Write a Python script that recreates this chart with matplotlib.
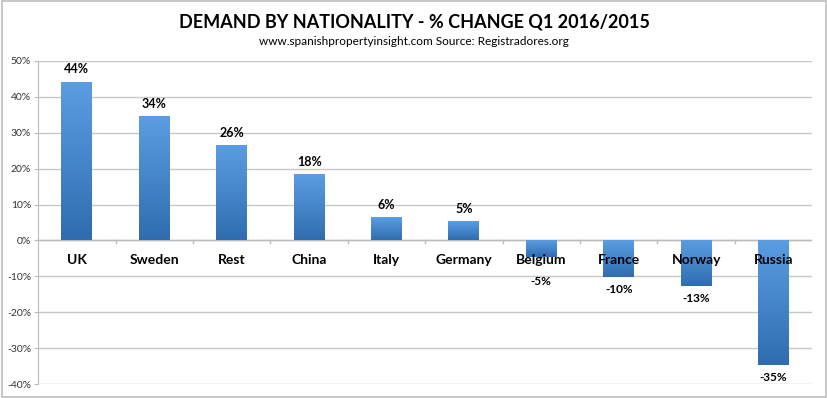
import numpy as np
import matplotlib
matplotlib.use("Agg")
from matplotlib import pyplot as plt
from matplotlib.colors import LinearSegmentedColormap
from matplotlib.patches import Rectangle

plt.rcParams['font.family'] = ['Lato', 'DejaVu Sans']

countries = ["UK", "Sweden", "Rest", "China", "Italy", "Germany",
             "Belgium", "France", "Norway", "Russia"]
change = [44, 34.3, 26.2, 18.3, 6.2, 5.2, -4.7, -10.3, -12.7, -34.8]
value_labels = ["44%", "34%", "26%", "18%", "6%", "5%", "-5%", "-10%", "-13%", "-35%"]
y_ticks = [-40, -30, -20, -10, 0, 10, 20, 30, 40, 50]

fig = plt.figure(figsize=(8.28, 3.98), dpi=100)
# grey frame round the whole picture
fig.patches.append(Rectangle((0.003, 0.003), 0.994, 0.994, transform=fig.transFigure,
                             fill=False, edgecolor="#bdbdbd", linewidth=1.2))

ax = fig.add_axes([0.046, 0.035, 0.935, 0.812])
x = np.arange(len(countries))
width = 0.4

cmap = LinearSegmentedColormap.from_list("bluegrad", ["#5b9de2", "#2f6db0"])
grad = np.linspace(0, 1, 64).reshape(-1, 1)

bars = ax.bar(x, change, width=width, color="none", zorder=3)
for b in bars:
    x0 = b.get_x()
    y0 = b.get_y()
    h = b.get_height()
    top = max(y0, y0 + h)
    bot = min(y0, y0 + h)
    ax.imshow(grad, cmap=cmap, aspect="auto", extent=(x0, x0 + b.get_width(), bot, top),
              origin="upper", zorder=3)

for xi, v, lab in zip(x, change, value_labels):
    if v >= 0:
        ax.annotate(lab, (xi, v), xytext=(0, 5), textcoords="offset points",
                    ha="center", va="bottom", fontsize=9, fontweight="bold")
    else:
        # keep short bars' labels clear of the category name
        ax.annotate(lab, (xi, min(v, -8)), xytext=(0, -5), textcoords="offset points",
                    ha="center", va="top", fontsize=8.5, fontweight="bold")

# category names sit just under the zero line
for xi, name in zip(x, countries):
    ax.annotate(name, (xi, 0), xytext=(0, -10), textcoords="offset points",
                ha="center", va="top", fontsize=10, fontweight="bold", zorder=4)

ax.set_xlim(-0.5, len(countries) - 0.5)
ax.set_ylim(-40, 50)
ax.set_yticks(y_ticks)
ax.set_yticklabels(["{}%".format(t) for t in y_ticks], fontsize=7.5, color="#333333")
ax.yaxis.grid(True, color="#c8c8c8", linewidth=1)
ax.set_axisbelow(True)
ax.set_xticks([])
for s in ["top", "right", "bottom"]:
    ax.spines[s].set_visible(False)
ax.spines["left"].set_color("#bbbbbb")
ax.tick_params(axis="y", length=3, color="#bbbbbb", pad=2)

# zero line with small ticks between categories
ax.axhline(0, color="#bbbbbb", linewidth=1, zorder=2)
for xb in np.arange(0.5, len(countries) - 0.5, 1.0):
    ax.plot([xb, xb], [0, -0.8], color="#bbbbbb", linewidth=1, zorder=2)

fig.text(0.5, 0.945, "DEMAND BY NATIONALITY - % CHANGE Q1 2016/2015",
         ha="center", va="center", fontsize=13, fontweight="bold")
fig.text(0.5, 0.895, "www.spanishpropertyinsight.com Source: Registradores.org",
         ha="center", va="center", fontsize=8.5)

fig.savefig("out.png", dpi=100, facecolor="white")
